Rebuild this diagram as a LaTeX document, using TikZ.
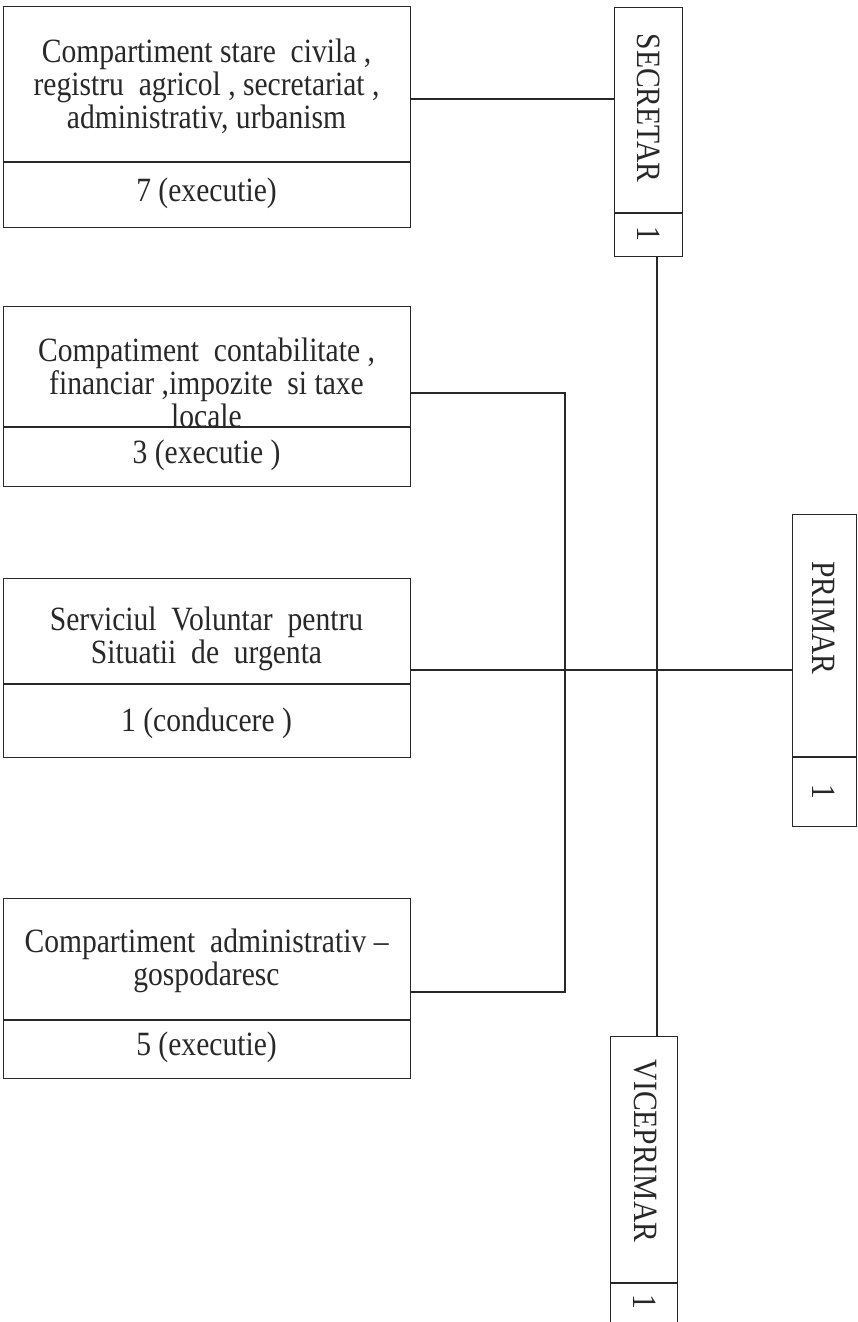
\documentclass[tikz,border=0pt]{standalone}
\usepackage{fontspec}
\setmainfont{Liberation Serif}[FakeStretch=0.87]
\definecolor{ink}{RGB}{40,40,40}
\begin{document}
\begin{tikzpicture}[x=1pt,y=1pt,
  box/.style={draw=ink, line width=1.3pt, rectangle, inner sep=0pt, anchor=north west},
  lbl/.style={font=\fontsize{34}{33}\selectfont, align=center, text=ink, inner sep=0pt},
  vlbl/.style={lbl, rotate=-90},
  conn/.style={draw=ink, line width=1.3pt}]
\useasboundingbox (0,0) rectangle (858,-1322);
\clip (0,0) rectangle (858,-1322);
\fill[white] (0,0) rectangle (858,-1322);
% boxes
\node[box, minimum width=407pt, minimum height=221pt] (b1) at (3,-6) {};
\node[box, minimum width=407pt, minimum height=180pt] (b2) at (3,-306) {};
\node[box, minimum width=407pt, minimum height=179pt] (b3) at (3,-578) {};
\node[box, minimum width=407pt, minimum height=180pt] (b4) at (3,-898) {};
\node[box, minimum width=68pt, minimum height=249pt] (sec) at (614,-7) {};
\node[box, minimum width=64pt, minimum height=312pt] (pri) at (792,-514) {};
\node[box, minimum width=67pt, minimum height=300pt] (vic) at (610,-1036) {};
% dividers
\draw[conn] (b1.west |- 0,-162) -- (b1.east |- 0,-162);
\draw[conn] (b2.west |- 0,-427) -- (b2.east |- 0,-427);
\draw[conn] (b3.west |- 0,-684) -- (b3.east |- 0,-684);
\draw[conn] (b4.west |- 0,-1020) -- (b4.east |- 0,-1020);
\draw[conn] (sec.west |- 0,-213) -- (sec.east |- 0,-213);
\draw[conn] (pri.west |- 0,-757) -- (pri.east |- 0,-757);
\draw[conn] (vic.west |- 0,-1283) -- (vic.east |- 0,-1283);
% texts
\node[lbl] (t1) at (206.5,-86) {Compartiment stare\ \ civila ,\\registru\ \ agricol , secretariat ,\\administrativ, urbanism};
\node[lbl] (n1) at (206.5,-193) {7 (executie)};
\node[lbl] (t2) at (206.5,-383) {Compatiment\ \ contabilitate ,\\financiar ,impozite\ \ si taxe\\locale};
\node[lbl] (n2) at (206.5,-455) {3 (executie )};
\node[lbl] (t3) at (206.5,-639) {Serviciul\ \ Voluntar\ \ pentru\\Situatii\ \ de\ \ urgenta};
\node[lbl] (n3) at (206.5,-723) {1 (conducere )};
\node[lbl] (t4) at (206.5,-961) {Compartiment\ \ administrativ –\\gospodaresc};
\node[lbl] (n4) at (206.5,-1047) {5 (executie)};
\node[vlbl] (tsec) at (649,-108) {SECRETAR};
\node[vlbl] (nsec) at (649,-234) {1};
\node[vlbl] (tpri) at (824,-618) {PRIMAR};
\node[vlbl] (npri) at (824,-792) {1};
\node[vlbl] (tvic) at (645,-1151) {VICEPRIMAR};
\node[vlbl] (nvic) at (645,-1302) {1};
% connectors
\coordinate (j1) at (565,-393);
\coordinate (j2) at (565,-992);
\draw[conn] (b1.east |- 0,-99) -- (sec.west |- 0,-99);
\draw[conn] (sec.south -| 657,0) -- (vic.north -| 657,0);
\draw[conn] (b2.east |- j1) -- (j1) -- (j2) -- (b4.east |- j2);
\draw[conn] (b3.east |- 0,-670) -- (pri.west |- 0,-670);
\end{tikzpicture}
\end{document}
